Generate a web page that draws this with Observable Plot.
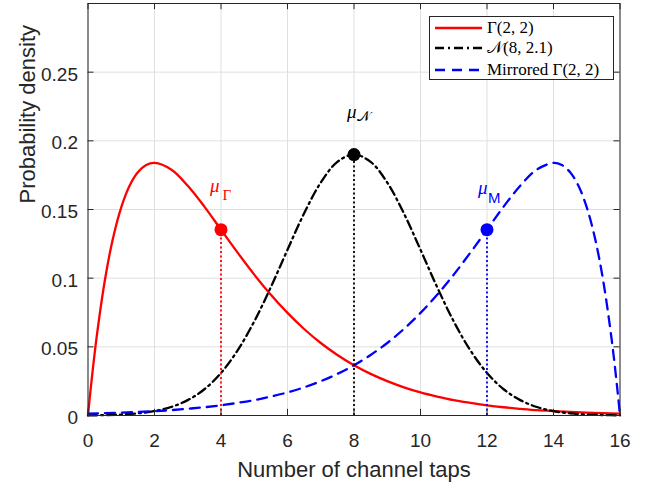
<!DOCTYPE html>
<html><head><meta charset="utf-8">
<script src="https://cdn.jsdelivr.net/npm/d3@7"></script>
<script src="https://cdn.jsdelivr.net/npm/@observablehq/plot@0.6"></script>
<style>
body{margin:0;background:#fff;}
#wrap{position:relative;width:647px;height:482px;}
#legend{position:absolute;left:429px;top:16px;width:183px;height:62px;border:1px solid #262626;background:#fff;font-family:"Liberation Serif",serif;font-size:17px;color:#000;}
.row{position:absolute;left:5px;height:20px;display:flex;align-items:center;white-space:nowrap;}
.row svg{margin-right:5px;}
</style></head><body><div id="wrap"></div>
<script>
// Gamma(2,2) density
const gammaX = [0,0.05,0.1,0.25,0.5,0.75,1,1.25,1.5,1.75,2,2.5,3,3.5,4,4.5,5,5.5,6,6.5,7,7.5,8,8.5,9,9.5,10,10.5,11,11.5,12,12.5,13,13.5,14,14.5,15,15.5,16];
const gammaY = [0,0.0122,0.0238,0.0552,0.0974,0.1289,0.1516,0.1673,0.1771,0.1824,0.1839,0.1791,0.1673,0.1521,0.1353,0.1186,0.1026,0.0879,0.0747,0.0630,0.0528,0.0441,0.0366,0.0303,0.0250,0.0205,0.0168,0.0138,0.0112,0.0092,0.0074,0.0060,0.0049,0.0039,0.0032,0.0026,0.0021,0.0017,0.0013];
// N(8, 2.1) density
const normX = [0,0.5,1,1.5,2,2.5,3,3.5,4,4.5,5,5.5,6,6.5,7,7.5,8,8.5,9,9.5,10,10.5,11,11.5,12,12.5,13,13.5,14,14.5,15,15.5,16];
const normY = [0.0001,0.0003,0.0007,0.0016,0.0032,0.0062,0.0112,0.0191,0.0310,0.0474,0.0685,0.0935,0.1207,0.1472,0.1696,0.1847,0.1900,0.1847,0.1696,0.1472,0.1207,0.0935,0.0685,0.0474,0.0310,0.0191,0.0112,0.0062,0.0032,0.0016,0.0007,0.0003,0.0001];
// Mirrored Gamma(2,2) density
const mirX = [0,0.5,1,1.5,2,2.5,3,3.5,4,4.5,5,5.5,6,6.5,7,7.5,8,8.5,9,9.5,10,10.5,11,11.5,12,12.5,13,13.5,14,14.25,14.5,14.75,15,15.25,15.5,15.75,15.9,15.95,16];
const mirY = [0.0013,0.0017,0.0021,0.0026,0.0032,0.0039,0.0049,0.0060,0.0074,0.0092,0.0112,0.0138,0.0168,0.0205,0.0250,0.0303,0.0366,0.0441,0.0528,0.0630,0.0747,0.0879,0.1026,0.1186,0.1353,0.1521,0.1673,0.1791,0.1839,0.1824,0.1771,0.1673,0.1516,0.1289,0.0974,0.0552,0.0238,0.0122,0];
// means
const muX = [4, 8, 12];
const muY = [0.1353, 0.19, 0.1353];
const muColors = ["#ff0000", "#000000", "#0000ff"];
const muSub = ["Γ", "𝒩", "M"];
const labelY = [0.1625, 0.2165, 0.161];
// ticks
const xTicks = [0,2,4,6,8,10,12,14,16];
const yTicks = [0,0.05,0.1,0.15,0.2,0.25];
const seriesNames = ["Γ(2, 2)", "𝒩(8, 2.1)", "Mirrored Γ(2, 2)"];

const gamma = gammaX.map((x,i)=>({x, y: gammaY[i]}));
const norm = normX.map((x,i)=>({x, y: normY[i]}));
const mir = mirX.map((x,i)=>({x, y: mirY[i]}));
const mus = muX.map((x,i)=>({x, y: muY[i], c: muColors[i], ly: labelY[i], sub: muSub[i]}));

const axisCol = "#262626";
const gridCol = "#dfdfdf";
const tl = 0.0045, tlx = 0.18;

const muMark = (i, dx) => Plot.text([mus[i]], {x: "x", y: "ly", text: () => "μ", fill: "c", textAnchor: "end", dx, lineAnchor: "bottom", fontFamily: "Liberation Serif", fontStyle: "italic", fontSize: 19});
const subMark = (i, dx, dy, opts) => Plot.text([mus[i]], {x: "x", y: "ly", text: "sub", fill: "c", textAnchor: "start", dx, dy, lineAnchor: "bottom", ...opts});

const chart = Plot.plot({
  width: 647, height: 482,
  marginLeft: 87.5, marginRight: 27.5, marginTop: 3, marginBottom: 67,
  style: {fontFamily: "Liberation Sans, Arial, sans-serif", color: axisCol, background: "#fff"},
  x: {domain: [0, 16]},
  y: {domain: [0, 0.3]},
  marks: [
    Plot.gridX(xTicks, {stroke: gridCol, strokeOpacity: 1}),
    Plot.gridY(yTicks, {stroke: gridCol, strokeOpacity: 1}),
    Plot.axisX({ticks: xTicks, tickSize: 0, tickPadding: 18, fontSize: 19, label: null, fill: axisCol}),
    Plot.axisY({ticks: yTicks, tickSize: 0, tickPadding: 10, dy: 2.5, fontSize: 19, label: null, fill: axisCol, tickFormat: d => String(d)}),
    Plot.line(gamma, {x: "x", y: "y", stroke: "#ff0000", strokeWidth: 2.3, curve: "catmull-rom"}),
    Plot.line(norm, {x: "x", y: "y", stroke: "#000000", strokeWidth: 2.3, strokeDasharray: "9,4,2,4", curve: "catmull-rom"}),
    Plot.line(mir, {x: "x", y: "y", stroke: "#0000ff", strokeWidth: 2.3, strokeDasharray: "10,7", curve: "catmull-rom"}),
    Plot.ruleX(mus, {x: "x", y1: 0, y2: "y", stroke: "c", strokeWidth: 1.8, strokeDasharray: "2,2.5"}),
    Plot.dot(mus, {x: "x", y: "y", r: 6.5, fill: "c", stroke: null}),
    muMark(0, -1.5), subMark(0, 1.5, 8, {fontFamily: "Liberation Serif", fontSize: 15}),
    muMark(1, 2.5), subMark(1, 3, 3, {fontFamily: "Liberation Serif", fontSize: 14}),
    muMark(2, 0.5), subMark(2, 1, 9, {fontFamily: "Liberation Sans", fontSize: 15}),
    Plot.frame({stroke: axisCol, strokeWidth: 1}),
    Plot.ruleX(xTicks, {x: d => d, y1: 0, y2: tl, stroke: axisCol}),
    Plot.ruleX(xTicks, {x: d => d, y1: 0.3, y2: 0.3 - tl, stroke: axisCol}),
    Plot.ruleY(yTicks, {y: d => d, x1: 0, x2: tlx, stroke: axisCol}),
    Plot.ruleY(yTicks, {y: d => d, x1: 16, x2: 16 - tlx, stroke: axisCol}),
    Plot.text(["Number of channel taps"], {frameAnchor: "bottom", dy: 61, lineAnchor: "bottom", fontSize: 22, fill: axisCol}),
    Plot.text(["Probability density"], {frameAnchor: "left", dx: -53, dy: -6, rotate: -90, lineAnchor: "bottom", fontSize: 22, fill: axisCol})
  ]
});
const wrap = document.getElementById("wrap");
wrap.appendChild(chart);

// legend
const legend = document.createElement("div");
legend.id = "legend";
const styles = [
  {stroke: "#ff0000", dash: null},
  {stroke: "#000000", dash: "9,4,2,4"},
  {stroke: "#0000ff", dash: "10,7"}
];
const rowTops = [1, 21, 43];
seriesNames.forEach((name, i) => {
  const row = document.createElement("div");
  row.className = "row";
  row.style.top = rowTops[i] + "px";
  row.innerHTML = `<svg width="47" height="20"><line x1="0" x2="47" y1="10" y2="10" stroke="${styles[i].stroke}" stroke-width="2.3" ${styles[i].dash ? `stroke-dasharray="${styles[i].dash}"` : ""}/></svg><span>${name}</span>`;
  legend.appendChild(row);
});
wrap.appendChild(legend);
</script>
</body></html>
